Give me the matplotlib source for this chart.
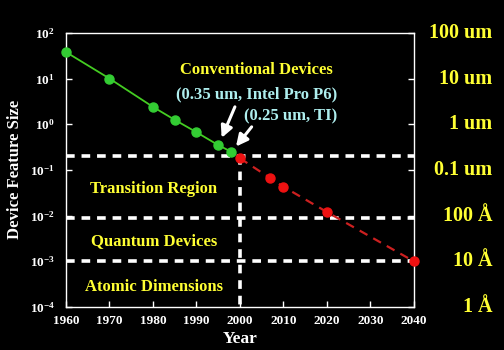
import matplotlib
matplotlib.use("Agg")
import matplotlib.pyplot as plt
import numpy as np

# Historical feature sizes (um)
hist_years = [1960, 1970, 1980, 1985, 1990, 1995, 1998]
hist_size = [38, 10, 2.4, 1.25, 0.67, 0.35, 0.25]

# Projected feature sizes (um)
proj_years = [2000, 2007, 2010, 2020, 2040]
proj_size = [0.18, 0.066, 0.043, 0.012, 0.001]

# Region boundaries
boundaries = [0.2, 0.009, 0.001]
boundary_year = 2000

x_ticks = [1960, 1970, 1980, 1990, 2000, 2010, 2020, 2030, 2040]
y_exponents = [-4, -3, -2, -1, 0, 1, 2]
right_labels = ["100 um", "10 um", "1 um", "0.1 um", "100 Å", "10 Å", "1 Å"]

region_labels = ["Transition Region", "Quantum Devices", "Atomic Dimensions"]
region_label_y = [10 ** -1.41, 10 ** -2.55, 10 ** -3.56]

plt.rcParams["font.family"] = ["Liberation Serif", "DejaVu Serif"]
plt.rcParams["font.weight"] = "bold"
plt.rcParams["mathtext.fontset"] = "custom"
plt.rcParams["mathtext.rm"] = "Liberation Serif:bold"
plt.rcParams["mathtext.it"] = "Liberation Serif:bold"
plt.rcParams["mathtext.bf"] = "Liberation Serif:bold"

YELLOW = "#ffff33"
CYAN = "#aeeeee"

fig = plt.figure(figsize=(5.04, 3.5), dpi=100, facecolor="black")
ax = fig.add_axes([0.131, 0.123, 0.690, 0.783], facecolor="black")

ax.set_yscale("log")
ax.set_xlim(1960, 2040)
ax.set_ylim(1e-4, 1e2)

# Dashed region boundaries
for b in boundaries:
    ax.plot([1960, 2040], [b, b], color="white", lw=2.6, ls=(0, (2.4, 1.9)),
            zorder=2, clip_on=False)
ax.plot([boundary_year, boundary_year], [boundaries[0], 1e-4], color="white",
        lw=2.6, ls=(0, (2.4, 1.9)), zorder=2)

ax.plot(proj_years, proj_size, color="#cc2020", lw=1.6, ls=(0, (4, 3)),
        marker="o", ms=6.5, mfc="#ee1111", mec="#ee1111", zorder=3, clip_on=False)
ax.plot(hist_years, hist_size, color="#44cc22", lw=1.3,
        marker="o", ms=6.5, mfc="#33cc33", mec="#33cc33", zorder=4, clip_on=False)

for sp in ax.spines.values():
    sp.set_color("white")
    sp.set_linewidth(1.0)

ax.set_xticks(x_ticks)
ax.set_xticklabels([str(v) for v in x_ticks])
ax.set_yticks([10.0 ** e for e in y_exponents])
ax.set_yticklabels([r"$10^{%d}$" % e for e in y_exponents])
ax.yaxis.set_minor_locator(matplotlib.ticker.NullLocator())
ax.tick_params(axis="both", which="major", direction="in", length=4, width=1,
               color="white", labelcolor="white", labelsize=9.5, right=True)
ax.tick_params(axis="y", pad=8)
ax.tick_params(axis="x", pad=6)

ax.set_xlabel("Year", color="white", fontsize=12.5, fontweight="bold", labelpad=3)
ax.set_ylabel("Device Feature Size", color="white", fontsize=12,
              fontweight="bold", labelpad=5)

# Unit scale on the right
for e, lab in zip(y_exponents[::-1], right_labels):
    ax.annotate(lab, xy=(1.0, 10.0 ** e), xycoords=("axes fraction", "data"),
                xytext=(0.977, 0), textcoords=("figure fraction", "offset points"),
                ha="right", va="center", color=YELLOW, fontsize=14.5,
                fontweight="bold", annotation_clip=False)

for lab, y in zip(region_labels, region_label_y):
    ax.text(1980.2, y, lab, ha="center", va="center", color=YELLOW,
            fontsize=12, fontweight="bold")

ax.text(2003.7, 10 ** 1.19, "Conventional Devices", ha="center", va="center",
        color=YELLOW, fontsize=12, fontweight="bold")
ax.text(2022.3, 10 ** 0.643, "(0.35 um, Intel Pro P6)", ha="right", va="center",
        color=CYAN, fontsize=12, fontweight="bold")
ax.text(2022.3, 10 ** 0.162, "(0.25 um, TI)", ha="right", va="center",
        color=CYAN, fontsize=12, fontweight="bold")

arrow_style = dict(arrowstyle="-|>,head_length=0.7,head_width=0.35",
                   color="white", lw=2.2, shrinkA=0, shrinkB=0)
ax.annotate("", xy=(1995.8, 10 ** -0.298), xytext=(1998.85, 10 ** 0.381),
            arrowprops=arrow_style)
ax.annotate("", xy=(1999.1, 10 ** -0.488), xytext=(2002.7, 10 ** -0.057),
            arrowprops=arrow_style)

fig.savefig("out.png", dpi=100, facecolor="black")
